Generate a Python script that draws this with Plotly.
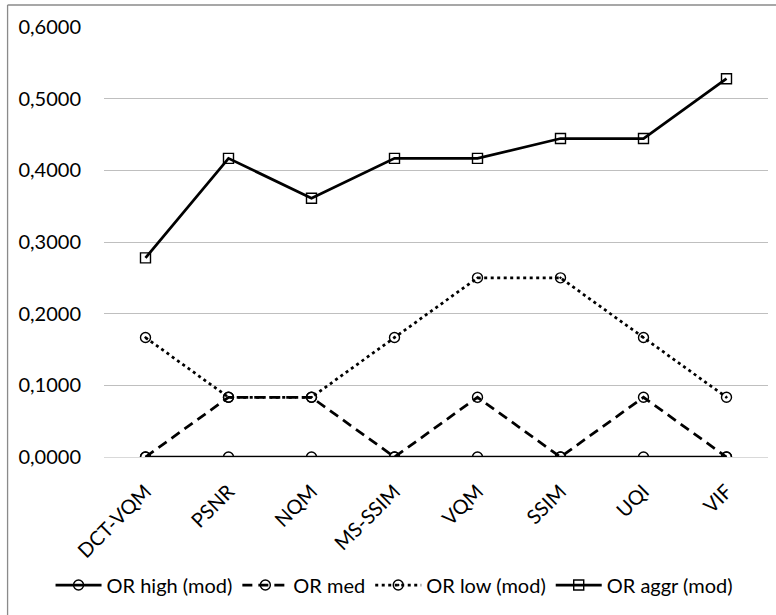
import plotly.graph_objects as go

categories = ["DCT-VQM", "PSNR", "NQM", "MS-SSIM", "VQM", "SSIM", "UQI", "VIF"]
or_high = [0, 0, 0, 0, 0, 0, 0, 0]
or_med = [0, 0.0833, 0.0833, 0, 0.0833, 0, 0.0833, 0]
or_low = [0.1667, 0.0833, 0.0833, 0.1667, 0.25, 0.25, 0.1667, 0.0833]
or_aggr = [0.2778, 0.4167, 0.3611, 0.4167, 0.4167, 0.4444, 0.4444, 0.5278]
y_ticks = [0, 0.1, 0.2, 0.3, 0.4, 0.5, 0.6]
y_ticklabels = ["0,0000", "0,1000", "0,2000", "0,3000", "0,4000", "0,5000", "0,6000"]

FONT = "Lato, Open Sans, sans-serif"
fig = go.Figure()
series = [
    ("OR high (mod)", or_high, "solid", "circle-open"),
    ("OR med", or_med, "10px,6px", "circle-open"),
    ("OR low (mod)", or_low, "3px,3.5px", "circle-open-dot"),
    ("OR aggr (mod)", or_aggr, "solid", "square-open"),
]
for name, vals, dash, sym in series:
    fig.add_trace(go.Scatter(
        x=categories, y=vals, name=name, mode="lines+markers",
        line=dict(color="black", width=2.75, dash=dash),
        marker=dict(symbol=sym, size=10, color="black", line=dict(width=1.4, color="black")),
    ))

L, R, T, B = 103.5, 8, 27, 158
W, H = 776, 615
pw, ph = W - L - R, H - T - B
def px_to_paper(px, py):
    return (px - L) / pw, (H - B - py) / ph

x0, y0 = px_to_paper(7, 616)
x1, y1 = px_to_paper(777, 5)
fig.add_shape(type="line", xref="paper", yref="paper", x0=x0, y0=y0, x1=x0, y1=y1,
              line=dict(color="#8a8a8a", width=1.3))
fig.add_shape(type="line", xref="paper", yref="paper", x0=x0, y0=y1, x1=x1, y1=y1,
              line=dict(color="#8a8a8a", width=1.3))

lx, ly = px_to_paper(50, 585)

fig.update_layout(
    width=W, height=H,
    margin=dict(l=L, r=R, t=T, b=B, pad=0, autoexpand=False),
    paper_bgcolor="white", plot_bgcolor="white",
    font=dict(family=FONT, size=20, color="black"),
    showlegend=True,
    legend=dict(orientation="h", x=lx, xanchor="left", xref="paper",
                y=ly, yanchor="middle", yref="paper",
                font=dict(size=20), itemwidth=46, tracegroupgap=0),
    xaxis=dict(showgrid=False, showline=False, zeroline=False, tickangle=-45,
               ticks="", tickfont=dict(size=20), range=[-0.5, 7.5],
               ticklabelstandoff=18),
    yaxis=dict(range=[0, 0.6], tickvals=y_ticks, ticktext=y_ticklabels,
               showgrid=True, gridcolor="#bfbfbf", gridwidth=1.3,
               zeroline=True, zerolinecolor="#d9d9d9", zerolinewidth=1.3,
               showline=False, ticks="", ticklabelstandoff=22,
               tickfont=dict(size=20)),
)
fig.write_html("out.html")
